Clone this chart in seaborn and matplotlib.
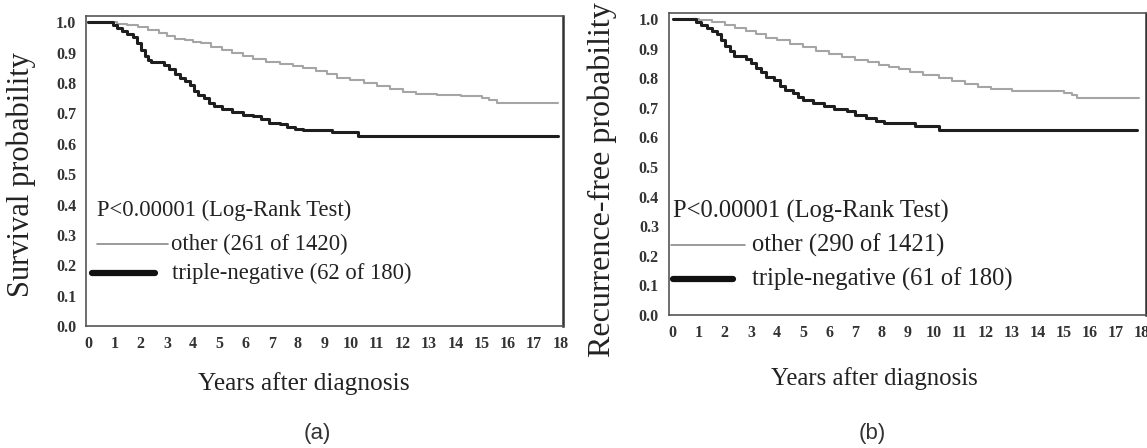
import numpy as np
import pandas as pd
import matplotlib
matplotlib.use("Agg")
import matplotlib.pyplot as plt
import seaborn as sns
from matplotlib.ticker import MultipleLocator

# ------------------------------
# Kaplan-Meier step data
# ------------------------------
# (a) overall survival
os_other_t = [0, 1.1, 1.5, 1.9, 2.3, 2.7, 3.0, 3.3, 3.7, 4.0, 4.3, 4.7, 5.1, 5.5, 5.9, 6.3, 6.8, 7.3, 7.8, 8.2,
              8.7, 9.1, 9.5, 10.0, 10.5, 11.0, 11.5, 12.0, 12.5, 13.3, 14.2, 15.0, 15.3, 15.6, 17.9]
os_other_s = [1.0, 0.995, 0.99, 0.985, 0.975, 0.965, 0.955, 0.945, 0.94, 0.935, 0.93, 0.92, 0.91, 0.90, 0.89, 0.88,
              0.87, 0.862, 0.855, 0.848, 0.838, 0.828, 0.818, 0.81, 0.80, 0.79, 0.78, 0.77, 0.765, 0.76, 0.757,
              0.752, 0.745, 0.733, 0.733]
os_tn_t = [0, 0.95, 1.1, 1.3, 1.5, 1.7, 1.85, 2.0, 2.15, 2.3, 2.4, 2.9, 3.1, 3.3, 3.5, 3.7, 3.9, 4.05, 4.2, 4.4,
           4.6, 4.8, 5.1, 5.5, 5.9, 6.3, 6.6, 6.9, 7.3, 7.6, 7.9, 8.2, 9.3, 10.3, 17.9]
os_tn_s = [1.0, 0.99, 0.98, 0.97, 0.96, 0.95, 0.93, 0.91, 0.89, 0.875, 0.87, 0.86, 0.845, 0.83, 0.815, 0.805, 0.795,
           0.775, 0.76, 0.75, 0.735, 0.725, 0.715, 0.705, 0.695, 0.69, 0.68, 0.67, 0.665, 0.655, 0.648, 0.645,
           0.638, 0.625, 0.625]

# (b) recurrence-free survival
rfs_other_t = [0, 1.0, 1.5, 2.0, 2.4, 2.8, 3.2, 3.6, 4.0, 4.5, 5.0, 5.5, 6.0, 6.5, 7.0, 7.5, 7.9, 8.3, 8.7, 9.1,
               9.6, 10.2, 10.7, 11.2, 11.7, 12.2, 13.0, 14.0, 15.0, 15.3, 15.5, 17.9]
rfs_other_s = [1.0, 0.995, 0.99, 0.978, 0.97, 0.96, 0.948, 0.935, 0.928, 0.915, 0.905, 0.89, 0.88, 0.87, 0.862,
               0.855, 0.845, 0.838, 0.83, 0.822, 0.812, 0.80, 0.79, 0.78, 0.77, 0.762, 0.758, 0.755, 0.75, 0.742,
               0.732, 0.732]
rfs_tn_t = [0, 0.9, 1.1, 1.3, 1.5, 1.7, 1.85, 2.0, 2.2, 2.35, 2.8, 3.0, 3.2, 3.4, 3.6, 3.9, 4.1, 4.3, 4.6, 4.8,
            5.0, 5.4, 5.8, 6.2, 6.7, 7.0, 7.4, 7.8, 8.1, 9.3, 10.2, 17.8]
rfs_tn_s = [1.0, 0.99, 0.98, 0.97, 0.96, 0.95, 0.93, 0.91, 0.89, 0.875, 0.865, 0.85, 0.835, 0.82, 0.805, 0.795,
            0.775, 0.76, 0.75, 0.735, 0.725, 0.715, 0.705, 0.695, 0.69, 0.675, 0.665, 0.655, 0.648, 0.638, 0.625,
            0.625]

panels = [
    dict(other=(os_other_t, os_other_s), tn=(os_tn_t, os_tn_s),
         ylabel="Survival probability", n_other="other (261 of 1420)",
         n_tn="triple-negative (62 of 180)", tag="(a)"),
    dict(other=(rfs_other_t, rfs_other_s), tn=(rfs_tn_t, rfs_tn_s),
         ylabel="Recurrence-free probability", n_other="other (290 of 1421)",
         n_tn="triple-negative (61 of 180)", tag="(b)"),
]

# ------------------------------
# Figure layout (hand-tuned per panel)
# ------------------------------
sns.set_style("white")
plt.rcParams['font.family'] = ['Liberation Serif', 'DejaVu Serif']

fig = plt.figure(figsize=(11.47, 4.48), dpi=100)
ax_pos = [[0.075, 0.272, 0.416, 0.692], [0.583, 0.297, 0.416, 0.674]]
xlims = [(-0.08, 18.11), (-0.15, 18.15)]
ylab_size = [22, 23]
ylab_xy = [(-0.105, 0.49), (-0.109, 0.447)]
xlab_size = [18.3, 17.8]
xlab_xy = [(0.457, -0.148), (0.43, -0.172)]
leg_size = [16.3, 17.7]
leg_y = [(0.38, 0.27, 0.175), (0.35, 0.235, 0.12)]
leg_x = [(0.34, (0.34, 3.05), 3.17, (0.15, 2.55), 3.2),
         (0.0, (-0.05, 2.76), 3.03, (0.0, 2.3), 3.03)]
tag_xy = [(317, 433), (872, 433)]

for i, p in enumerate(panels):
    ax = fig.add_axes(ax_pos[i])
    df_o = pd.DataFrame({"t": p["other"][0], "s": p["other"][1]})
    df_t = pd.DataFrame({"t": p["tn"][0], "s": p["tn"][1]})
    sns.lineplot(data=df_o, x="t", y="s", ax=ax, color="#a5a5a5", lw=1.5,
                 drawstyle="steps-post", estimator=None)
    sns.lineplot(data=df_t, x="t", y="s", ax=ax, color="#1e1e1e", lw=2.2,
                 drawstyle="steps-post", estimator=None)

    ax.set_xlim(*xlims[i])
    ax.set_ylim(0, 1.02)
    ax.xaxis.set_major_locator(MultipleLocator(1))
    ax.xaxis.set_minor_locator(MultipleLocator(0.5))
    ax.set_yticks(np.arange(0, 1.01, 0.1))
    ax.set_yticklabels([f"{v:.1f}" for v in np.arange(0, 1.01, 0.1)])
    ax.tick_params(axis="both", which="major", direction="out", length=3,
                   width=0.8, color="#555555", labelsize=11.5, pad=4)
    ax.tick_params(axis="x", which="minor", direction="out", length=2,
                   width=0.6, color="#777777")
    for lab in ax.get_xticklabels() + ax.get_yticklabels():
        lab.set_fontweight("bold")
        lab.set_color("#333333")
    for sp in ax.spines.values():
        sp.set_color("#555555")
        sp.set_linewidth(1.2)
    ax.spines["right"].set_linewidth(1.8)
    ax.spines["right"].set_color("#333333")

    ax.set_xlabel("Years after diagnosis", fontsize=xlab_size[i], color="#222222")
    ax.xaxis.set_label_coords(*xlab_xy[i])
    ax.set_ylabel(p["ylabel"], fontsize=ylab_size[i], color="#222222")
    ax.yaxis.set_label_coords(*ylab_xy[i])

    # in-plot legend block
    lx = leg_x[i]
    ly = leg_y[i]
    ax.text(lx[0], ly[0], "P<0.00001 (Log-Rank Test)", fontsize=leg_size[i],
            va="center", ha="left", color="#222222")
    ax.plot(lx[1], [ly[1], ly[1]], color="#8a8a8a", lw=1.2)
    ax.text(lx[2], ly[1], p["n_other"], fontsize=leg_size[i], va="center",
            ha="left", color="#222222")
    ax.plot(lx[3], [ly[2], ly[2]], color="#111111", lw=4.5,
            solid_capstyle="round")
    ax.text(lx[4], ly[2], p["n_tn"], fontsize=leg_size[i], va="center",
            ha="left", color="#222222")

    fig.text(tag_xy[i][0] / 1147, 1 - tag_xy[i][1] / 448, p["tag"], fontsize=16,
             ha="center", va="center", family=["Liberation Sans", "DejaVu Sans"],
             color="#333333")

fig.savefig("out.png", dpi=100, facecolor="white")
